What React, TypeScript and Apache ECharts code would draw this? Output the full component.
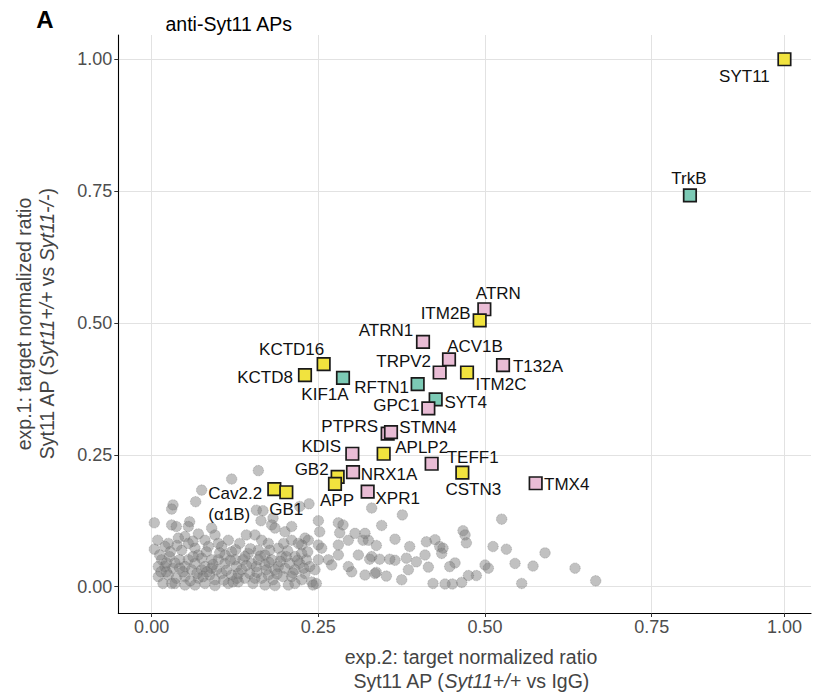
import React, { useEffect, useRef } from 'react';
import * as echarts from 'echarts';

const FONT = '"Liberation Sans", Arial, Helvetica, sans-serif';

// ---- data ----
const geneNames = ['SYT11', 'TrkB', 'ATRN', 'ITM2B', 'ATRN1', 'ACV1B', 'TRPV2', 'ITM2C', 'T132A', 'KCTD16', 'KCTD8', 'KIF1A', 'RFTN1', 'SYT4', 'GPC1', 'PTPRS', 'STMN4', 'KDIS', 'APLP2', 'TEFF1', 'CSTN3', 'TMX4', 'GB2', 'APP', 'NRX1A', 'XPR1', 'Cav2.2\n(α1B)', 'GB1'];
const geneX = [1.0, 0.822, 0.499, 0.492, 0.407, 0.446, 0.432, 0.473, 0.527, 0.258, 0.230, 0.287, 0.399, 0.426, 0.415, 0.354, 0.359, 0.301, 0.348, 0.420, 0.466, 0.576, 0.279, 0.275, 0.302, 0.324, 0.184, 0.202];
const geneY = [1.0, 0.742, 0.526, 0.505, 0.464, 0.431, 0.406, 0.406, 0.420, 0.422, 0.401, 0.396, 0.384, 0.355, 0.338, 0.290, 0.293, 0.252, 0.252, 0.233, 0.216, 0.196, 0.208, 0.195, 0.217, 0.180, 0.185, 0.179];
const geneGroup = ['y', 't', 'p', 'y', 'p', 'p', 'p', 'y', 'p', 'y', 'y', 't', 't', 't', 'p', 'p', 'p', 'p', 'y', 'p', 'y', 'p', 'y', 'y', 'p', 'p', 'y', 'y'];

const grayPoints: [number, number][] = [
  [0.160, 0.220], [0.120, 0.204], [0.075, 0.183], [0.066, 0.161], [0.032, 0.155], [0.030, 0.147], [0.236, 0.157], [0.222, 0.152],
  [0.157, 0.145], [0.167, 0.144], [0.182, 0.130], [0.164, 0.125], [0.180, 0.117], [0.185, 0.111], [0.200, 0.104], [0.210, 0.114],
  [0.004, 0.121], [0.030, 0.117], [0.037, 0.114], [0.057, 0.123], [0.055, 0.114], [0.090, 0.111], [0.095, 0.098], [0.070, 0.100],
  [0.050, 0.095], [0.009, 0.088], [0.025, 0.082], [0.020, 0.076], [0.004, 0.071], [0.142, 0.098], [0.155, 0.098], [0.165, 0.088],
  [0.175, 0.082], [0.230, 0.092], [0.235, 0.088], [0.225, 0.079], [0.210, 0.088], [0.220, 0.082], [0.250, 0.125], [0.252, 0.104],
  [0.250, 0.079], [0.255, 0.073],
  [0.015, 0.051], [0.027, 0.057], [0.020, 0.038], [0.032, 0.035], [0.010, 0.019], [0.025, 0.022], [0.037, 0.016], [0.030, 0.006],
  [0.017, 0.006], [0.045, 0.069], [0.065, 0.073], [0.080, 0.088], [0.085, 0.076], [0.055, 0.051], [0.075, 0.054], [0.090, 0.051],
  [0.060, 0.032], [0.075, 0.032], [0.050, 0.019], [0.070, 0.016], [0.087, 0.022], [0.065, 0.003], [0.080, 0.006], [0.095, 0.013],
  [0.105, 0.076], [0.115, 0.088], [0.120, 0.066], [0.100, 0.051], [0.110, 0.044], [0.125, 0.051], [0.105, 0.025], [0.120, 0.022],
  [0.135, 0.032], [0.115, 0.006], [0.130, 0.009], [0.145, 0.063], [0.150, 0.044], [0.152, 0.006], [0.140, 0.016], [0.160, 0.069],
  [0.170, 0.060], [0.180, 0.051], [0.157, 0.038], [0.172, 0.032], [0.190, 0.038], [0.165, 0.016], [0.182, 0.013], [0.197, 0.019],
  [0.185, 0.002], [0.170, 0.003], [0.190, 0.073], [0.195, 0.057], [0.215, 0.057], [0.207, 0.044], [0.222, 0.044], [0.237, 0.038],
  [0.230, 0.025], [0.245, 0.032], [0.210, 0.019], [0.225, 0.013], [0.240, 0.009], [0.205, 0.003], [0.242, 0.003],
  [0.042, 0.051], [0.050, 0.038], [0.065, 0.044], [0.080, 0.038], [0.097, 0.032], [0.110, 0.060], [0.127, 0.038], [0.137, 0.051],
  [0.147, 0.025], [0.160, 0.051], [0.175, 0.022], [0.185, 0.032], [0.200, 0.035], [0.215, 0.032], [0.202, 0.057], [0.177, 0.069],
  [0.132, 0.082], [0.100, 0.082], [0.055, 0.082], [0.040, 0.092], [0.070, 0.060], [0.050, 0.003], [0.095, 0.002], [0.130, 0.025],
  [0.225, 0.063], [0.232, 0.051], [0.250, 0.051], [0.247, 0.006], [0.215, 0.006], [0.155, 0.016], [0.090, 0.035], [0.010, 0.038],
  [0.022, 0.028], [0.035, 0.006], [0.170, 0.041], [0.140, 0.057], [0.122, 0.009], [0.077, 0.019], [0.062, 0.057], [0.042, 0.035],
  [0.028, 0.066], [0.012, 0.060], [0.035, 0.045], [0.047, 0.028], [0.058, 0.011], [0.068, 0.025], [0.083, 0.028], [0.092, 0.042],
  [0.102, 0.064], [0.112, 0.031], [0.118, 0.050], [0.128, 0.016], [0.142, 0.040], [0.148, 0.072], [0.158, 0.027], [0.163, 0.058],
  [0.176, 0.046], [0.188, 0.024], [0.193, 0.048], [0.204, 0.068], [0.212, 0.026], [0.219, 0.050], [0.228, 0.035], [0.234, 0.066],
  [0.198, 0.082], [0.126, 0.070], [0.082, 0.066], [0.062, 0.086], [0.038, 0.078], [0.022, 0.045], [0.014, 0.028], [0.108, 0.012],
  [0.265, 0.051], [0.270, 0.041], [0.280, 0.121], [0.287, 0.117], [0.282, 0.102], [0.295, 0.088], [0.280, 0.079], [0.280, 0.060],
  [0.300, 0.028], [0.295, 0.038], [0.305, 0.101], [0.317, 0.088], [0.325, 0.088], [0.320, 0.101], [0.310, 0.060], [0.320, 0.022],
  [0.330, 0.057], [0.335, 0.025],
  [0.525, 0.128], [0.666, 0.011], [0.635, 0.035], [0.590, 0.064], [0.572, 0.039], [0.545, 0.044], [0.555, 0.006], [0.532, 0.071],
  [0.512, 0.076], [0.500, 0.041], [0.505, 0.035], [0.487, 0.021], [0.475, 0.021], [0.467, 0.106], [0.470, 0.098], [0.472, 0.083],
  [0.455, 0.045], [0.447, 0.038], [0.451, 0.005], [0.440, 0.005], [0.422, 0.006], [0.432, 0.076], [0.437, 0.073], [0.435, 0.063],
  [0.425, 0.089], [0.412, 0.085], [0.410, 0.060], [0.415, 0.037], [0.397, 0.047], [0.387, 0.076], [0.385, 0.032], [0.382, 0.054],
  [0.375, 0.013], [0.365, 0.090], [0.365, 0.050], [0.357, 0.052], [0.342, 0.052], [0.327, 0.052], [0.352, 0.020], [0.337, 0.027],
  [0.337, 0.078], [0.376, 0.136], [0.345, 0.116], [0.330, 0.149], [0.465, 0.008],
];

const xTicksLeft = [0, 0.25, 0.5, 0.75];
const xTicksRight = [1.0];
const yTicks = [0, 0.25, 0.5, 0.75, 1.0];

// ---- layout / style (not data) ----
const groupColor: Record<string, string> = { y: '#F1E33E', p: '#E9BCD5', t: '#7CCAB5' };
const labelOffset: Record<string, [number, number]> = {
  'SYT11': [-40, 17], 'TrkB': [-1, -17], 'ATRN': [14, -16], 'ITM2B': [-34, -7], 'ATRN1': [-37, -11],
  'ACV1B': [26, -13], 'TRPV2': [-36, -11], 'ITM2C': [34, 12], 'T132A': [35, 1], 'KCTD16': [-32, -15],
  'KCTD8': [-40, 2], 'KIF1A': [-18, 17], 'RFTN1': [-36, 3], 'SYT4': [30, 3], 'GPC1': [-32, -3],
  'PTPRS': [-38, -7], 'STMN4': [37, -5], 'KDIS': [-31, -7], 'APLP2': [38, -6], 'TEFF1': [41, -6],
  'CSTN3': [11, 17], 'TMX4': [31, 1], 'GB2': [-26, -7], 'APP': [2, 17], 'NRX1A': [36, 2], 'XPR1': [30, 7],
  'Cav2.2\n(α1B)': [-66, 14.5], 'GB1': [0, 17],
};

const BREAK = 0.75;
const GRID_TOP = 35;
const GRID_H = 578;

export default function App() {
  const ref = useRef<HTMLDivElement>(null);
  useEffect(() => {
    if (!ref.current) return;
    const chart = echarts.init(ref.current, undefined, { renderer: 'svg' });

    const makeItems = (right: boolean) =>
      geneNames
        .map((n, i) => ({ n, i }))
        .filter(({ i }) => (right ? geneX[i] > BREAK : geneX[i] <= BREAK))
        .map(({ n, i }) => {
          const off = labelOffset[n] || [0, 0];
          const isMulti = n.indexOf('\n') >= 0;
          return {
            name: n,
            value: [geneX[i], geneY[i]],
            itemStyle: { color: groupColor[geneGroup[i]] },
            label: isMulti
              ? { offset: off, align: 'left', lineHeight: 21 }
              : { offset: off },
          };
        });

    const squareSeries = (right: boolean) => ({
      type: 'scatter',
      xAxisIndex: right ? 1 : 0,
      yAxisIndex: right ? 1 : 0,
      symbol: 'rect',
      symbolSize: 12.5,
      z: 5,
      itemStyle: { borderColor: '#1a1a1a', borderWidth: 1.7, opacity: 1 },
      label: {
        show: true,
        position: 'inside',
        formatter: '{b}',
        fontSize: 17,
        fontFamily: FONT,
        color: '#111',
        align: 'center',
        verticalAlign: 'middle',
      },
      emphasis: { disabled: true },
      data: makeItems(right),
    });

    const tickLabel = {
      fontSize: 18,
      fontFamily: FONT,
      color: '#4d4d4d',
      formatter: (v: number) => v.toFixed(2),
    };
    const axisLine = { show: true, onZero: false, lineStyle: { color: '#000', width: 1.1 } };
    const split = { show: true, lineStyle: { color: '#e2e2e2', width: 1 } };

    const option: any = {
      animation: false,
      backgroundColor: '#ffffff',
      grid: [
        { left: 118.3, top: GRID_TOP, width: 533.4, height: GRID_H },
        { left: 651.7, top: GRID_TOP, width: 159.3, height: GRID_H },
      ],
      xAxis: [
        {
          type: 'value', gridIndex: 0, min: -0.05, max: BREAK,
          axisLine,
          axisTick: { show: true, length: 4, customValues: xTicksLeft, lineStyle: { color: '#333' } },
          axisLabel: { ...tickLabel, customValues: xTicksLeft, margin: 5 },
          splitLine: split,
        },
        {
          type: 'value', gridIndex: 1, min: BREAK, max: 1.05,
          axisLine,
          axisTick: { show: true, length: 4, customValues: xTicksRight, lineStyle: { color: '#333' } },
          axisLabel: { ...tickLabel, customValues: xTicksRight, margin: 5 },
          splitLine: split,
        },
      ],
      yAxis: [
        {
          type: 'value', gridIndex: 0, min: -0.05, max: 1.046,
          axisLine,
          axisTick: { show: true, length: 4, customValues: yTicks, lineStyle: { color: '#333' } },
          axisLabel: { ...tickLabel, customValues: yTicks, margin: 6 },
          splitLine: split,
        },
        {
          type: 'value', gridIndex: 1, min: -0.05, max: 1.046,
          axisLine: { show: false, onZero: false },
          axisTick: { show: false, customValues: yTicks },
          axisLabel: { show: false, customValues: yTicks },
          splitLine: split,
        },
      ],
      series: [
        {
          type: 'scatter',
          xAxisIndex: 0,
          yAxisIndex: 0,
          symbol: 'circle',
          symbolSize: 10.5,
          z: 2,
          itemStyle: {
            color: 'rgba(125,125,125,0.6)',
            borderColor: 'rgba(90,90,90,0.6)',
            borderWidth: 0.8,
            borderType: 'dotted',
          },
          emphasis: { disabled: true },
          data: grayPoints,
        },
        squareSeries(false),
        squareSeries(true),
      ],
      graphic: [
        {
          type: 'text', x: 45, y: 19,
          style: { text: 'A', fontSize: 24, fontWeight: 'bold', fontFamily: FONT, fill: '#000', align: 'center', verticalAlign: 'middle' },
        },
        {
          type: 'text', x: 165.5, y: 23.5,
          style: { text: 'anti-Syt11 APs', fontSize: 19.5, fontFamily: FONT, fill: '#000', align: 'left', verticalAlign: 'middle' },
        },
        {
          type: 'text', x: 471, y: 657,
          style: { text: 'exp.2: target normalized ratio', fontSize: 19.5, fontFamily: FONT, fill: '#444', align: 'center', verticalAlign: 'middle' },
        },
        {
          type: 'text', x: 471, y: 681,
          style: {
            text: '{n|Syt11 AP (}{i|Syt11+/+}{n| vs IgG)}',
            align: 'center', verticalAlign: 'middle',
            rich: {
              n: { fontSize: 19.5, fontFamily: FONT, fill: '#444', color: '#444' },
              i: { fontSize: 19.5, fontFamily: FONT, fontStyle: 'italic', fill: '#444', color: '#444' },
            },
          },
        },
        {
          type: 'text', x: 24, y: 324, rotation: Math.PI / 2,
          style: { text: 'exp.1: target normalized ratio', fontSize: 19.5, fontFamily: FONT, fill: '#444', align: 'center', verticalAlign: 'middle' },
        },
        {
          type: 'text', x: 47, y: 324, rotation: Math.PI / 2,
          style: {
            text: '{n|Syt11 AP (}{i|Syt11+/+}{n| vs }{i|Syt11-/-}{n|)}',
            align: 'center', verticalAlign: 'middle',
            rich: {
              n: { fontSize: 19.5, fontFamily: FONT, fill: '#444', color: '#444' },
              i: { fontSize: 19.5, fontFamily: FONT, fontStyle: 'italic', fill: '#444', color: '#444' },
            },
          },
        },
      ],
    };
    chart.setOption(option);
    return () => chart.dispose();
  }, []);

  return <div ref={ref} style={{ position: 'fixed', left: 0, top: 0, width: 814, height: 697 }} />;
}
